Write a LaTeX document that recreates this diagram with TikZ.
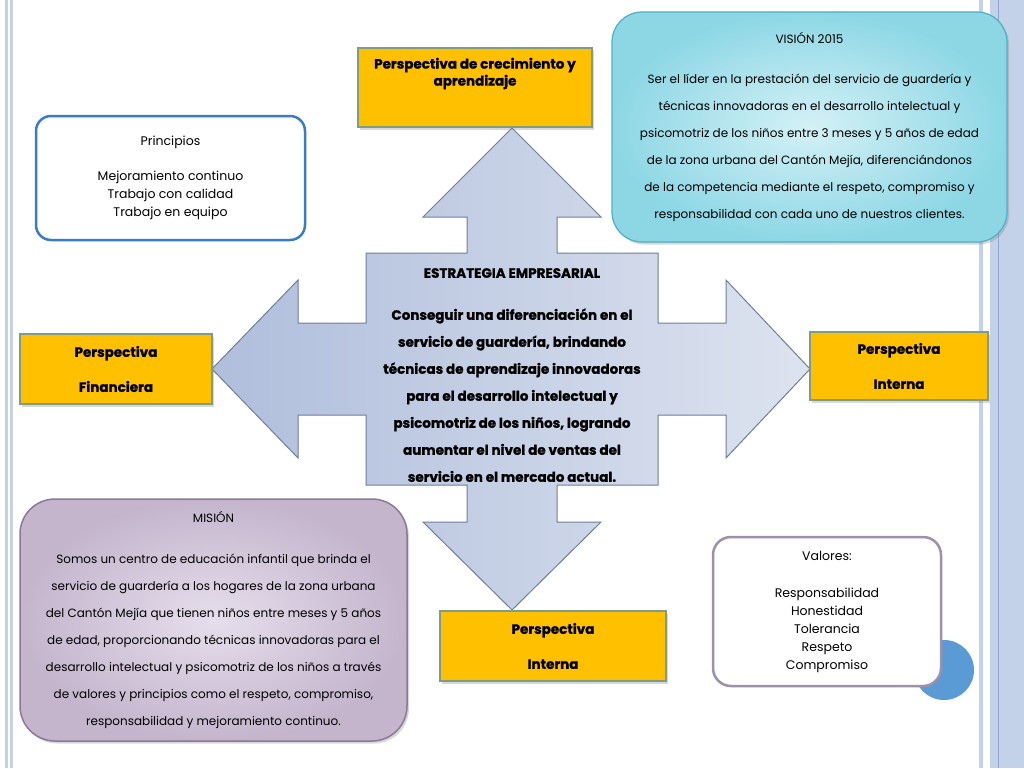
\documentclass[tikz,border=0pt]{standalone}
\usepackage{fontspec}
\setmainfont{Poppins}[BoldFeatures={FakeBold=1.2}]
\usetikzlibrary{shadows,positioning}

\definecolor{naranja}{HTML}{FFC000}
\definecolor{bordeverde}{HTML}{7F9C84}
\definecolor{flechaosc}{HTML}{B0BEDC}
\definecolor{flechacla}{HTML}{DDE3EF}
\definecolor{flechaborde}{HTML}{6F7F98}
\definecolor{azulborde}{HTML}{3A7BC8}
\definecolor{cianin}{HTML}{D4F1F6}
\definecolor{cianout}{HTML}{8DD7E5}
\definecolor{cianborde}{HTML}{4FAFC4}
\definecolor{lilain}{HTML}{E6DEEC}
\definecolor{lilaout}{HTML}{C4B5CD}
\definecolor{lilaborde}{HTML}{8A7A97}
\definecolor{grisborde}{HTML}{9D90AA}
\definecolor{circulo}{HTML}{5B9BD5}
\definecolor{franja}{HTML}{C3D2E8}
\definecolor{franjaosc}{HTML}{8EA7CF}

\begin{document}
\begin{tikzpicture}[x=1pt, y=-1pt, every node/.style={inner sep=0pt, align=center},
  sombra/.style={drop shadow={opacity=0.3, shadow xshift=2pt, shadow yshift=-2.5pt}},
  perspectiva/.style={fill=naranja, draw=bordeverde, line width=1.2pt, sombra,
    font=\fontsize{13.5}{17}\selectfont\bfseries},
  lista/.style={font=\fontsize{12.5}{18}\selectfont},
  parrafo/.style={font=\fontsize{12}{27}\selectfont}]

\useasboundingbox (0,0) rectangle (1024,768);
\fill[white] (0,0) rectangle (1024,768);

% franjas laterales
\fill[franja] (5,0) rectangle (8,768);
\fill[franja] (10,0) rectangle (13,768);
\fill[franja] (979,0) rectangle (983,768);
\fill[franja] (990,0) rectangle (1024,768);
\draw[franjaosc, line width=1pt] (998,0) -- (998,768);

% flecha de cuatro puntas
\draw[flechaborde, line width=1pt, left color=flechaosc, right color=flechacla]
  (366,253) -- (467,253) -- (467,217) -- (423,217) -- (512,128) -- (601,217)
  -- (557,217) -- (557,253) -- (658,253) -- (658,323) -- (726,323) -- (726,280)
  -- (810,369) -- (726,458) -- (726,415) -- (658,415) -- (658,485) -- (557,485)
  -- (557,522) -- (601,522) -- (512,610) -- (423,522) -- (467,522) -- (467,485)
  -- (366,485) -- (366,415) -- (298,415) -- (298,458) -- (212,369) -- (298,280)
  -- (298,323) -- (366,323) -- cycle;

\node[font=\fontsize{13.5}{27}\selectfont\bfseries] (estrategia) at (512,375)
  {ESTRATEGIA EMPRESARIAL\\[15pt]
   Conseguir una diferenciación en el\\
   servicio de guardería, brindando\\
   técnicas de aprendizaje innovadoras\\
   para el desarrollo intelectual y\\
   psicomotriz de los niños, logrando\\
   aumentar el nivel de ventas del\\
   servicio en el mercado actual.};

% perspectivas
\node[perspectiva, minimum width=234pt, minimum height=79pt] (crecimiento) at (475,87.5) {};
\node[font=\fontsize{13.5}{17}\selectfont\bfseries] (crecimientotxt) at (475,73.5)
  {Perspectiva de crecimiento y\\aprendizaje};
\node[perspectiva, minimum width=192pt, minimum height=70pt] (financiera) at (116,369)
  {Perspectiva\\[18pt]Financiera};
\node[perspectiva, minimum width=178pt, minimum height=68pt] (interna) at (899,366)
  {Perspectiva\\[18pt]Interna};
\node[perspectiva, minimum width=226pt, minimum height=70pt] (internab) at (553,646)
  {Perspectiva\\[18pt]Interna};

% cuadros de texto
\node[lista, draw=azulborde, line width=2.5pt, fill=white, rounded corners=15pt,
  minimum width=269pt, minimum height=124pt] (principios) at (170.5,178)
  {Principios\\[17pt]Mejoramiento continuo\\Trabajo con calidad\\Trabajo en equipo};

\node[parrafo, draw=cianborde, line width=1.2pt, inner color=cianin, outer color=cianout,
  rounded corners=30pt, sombra, minimum width=395pt, minimum height=230pt] (vision) at (809.5,127)
  {VISIÓN 2015\\[13pt]
   Ser el líder en la prestación del servicio de guardería y\\
   técnicas innovadoras en el desarrollo intelectual y\\
   psicomotriz de los niños entre 3 meses y 5 años de edad\\
   de la zona urbana del Cantón Mejía, diferenciándonos\\
   de la competencia mediante el respeto, compromiso y\\
   responsabilidad con cada uno de nuestros clientes.};

\node[parrafo, draw=lilaborde, line width=1.5pt, inner color=lilain, outer color=lilaout,
  rounded corners=35pt, sombra, minimum width=387pt, minimum height=242pt] (mision) at (213.5,620)
  {MISIÓN\\[14pt]
   Somos un centro de educación infantil que brinda el\\
   servicio de guardería a los hogares de la zona urbana\\
   del Cantón Mejía que tienen niños entre meses y 5 años\\
   de edad, proporcionando técnicas innovadoras para el\\
   desarrollo intelectual y psicomotriz de los niños a través\\
   de valores y principios como el respeto, compromiso,\\
   responsabilidad y mejoramiento continuo.};

\node[circle, fill=circulo, minimum size=60pt] (circulo) at (944,670) {};
\node[lista, draw=grisborde, line width=2.5pt, fill=white, rounded corners=18pt,
  minimum width=228pt, minimum height=149pt] (valores) at (827,611.5)
  {Valores:\\[19pt]Responsabilidad\\Honestidad\\Tolerancia\\Respeto\\Compromiso};

\end{tikzpicture}
\end{document}
